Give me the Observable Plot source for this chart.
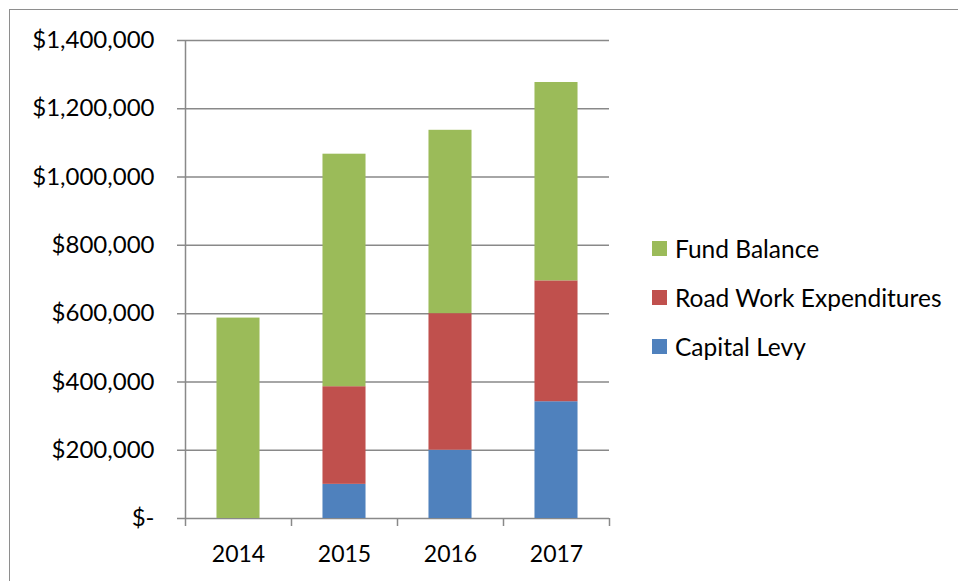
<!DOCTYPE html>
<html><head><meta charset="utf-8">
<script src="https://cdn.jsdelivr.net/npm/d3@7"></script>
<script src="https://cdn.jsdelivr.net/npm/@observablehq/plot@0.6"></script>
<style>
body{margin:0;background:#fff;font-family:Lato,sans-serif}
#wrap{position:relative;width:958px;height:581px;overflow:hidden;background:#fff}
#border{position:absolute;left:9px;top:9px;width:2000px;height:2000px;border:1.5px solid #8e8e8e;box-sizing:border-box}
#chart{position:absolute;left:0;top:0}
#legend{position:absolute;left:652px;top:235px;font-family:Lato,sans-serif;font-size:24.5px;color:#000}
.item{display:flex;align-items:center;height:26px;margin-bottom:23px;white-space:nowrap}
.sw{width:15px;height:15px;margin-right:8px;flex:none}
</style></head>
<body>
<div id="wrap"><div id="border"></div><div id="chart"></div><div id="legend"></div></div>
<script>
const years = ["2014", "2015", "2016", "2017"];
const capitalLevy = [0, 100000, 200000, 342000];
const roadWork = [0, 286000, 400000, 354000];
const fundBalance = [587000, 681000, 537000, 581000];
const seriesNames = ["Capital Levy", "Road Work Expenditures", "Fund Balance"];
const seriesColors = ["#4F81BD", "#C0504D", "#9BBB59"];
const yTicks = [0, 200000, 400000, 600000, 800000, 1000000, 1200000, 1400000];
const legendOrder = ["Fund Balance", "Road Work Expenditures", "Capital Levy"];

const seriesValues = [capitalLevy, roadWork, fundBalance];
const table = years.flatMap((year, i) =>
  seriesNames.map((s, k) => ({year, series: s, value: seriesValues[k][i]})));

const fmt = d => d === 0 ? "$-" : "$" + d3.format(",")(d);
const grey = "#898989";
const band = (958 - 185 - 349) / years.length;

const chart = Plot.plot({
  width: 958, height: 581,
  marginLeft: 185, marginRight: 349, marginTop: 40, marginBottom: 63,
  x: {domain: years, padding: 0, label: null},
  y: {domain: [0, 1400000], label: null},
  color: {domain: seriesNames, range: seriesColors},
  style: {fontFamily: "Lato, sans-serif", fontSize: "24px", color: "#000", background: "transparent", overflow: "visible"},
  marks: [
    Plot.ruleY(yTicks, {stroke: grey, strokeWidth: 1.5, insetLeft: -8}),
    Plot.barY(table, {x: "year", y: "value", fill: "series", insetLeft: band * 0.297, insetRight: band * 0.297}),
    Plot.ruleX(years, {x: d => d, dx: -band / 2, y1: 0, y2: 0, insetBottom: -8, stroke: grey, strokeWidth: 1.5}),
    Plot.ruleX([years[years.length - 1]], {x: d => d, dx: band / 2, y1: 0, y2: 0, insetBottom: -8, stroke: grey, strokeWidth: 1.5}),
    Plot.ruleX([years[0]], {x: d => d, dx: -band / 2, y1: 0, y2: 1400000, stroke: grey, strokeWidth: 1.5}),
    Plot.axisX({tickSize: 0, tickPadding: 27, label: null, fontSize: 23}),
    Plot.axisY({ticks: yTicks, tickFormat: fmt, tickSize: 0, tickPadding: 31, label: null, fontSize: 24})
  ]
});
document.getElementById("chart").appendChild(chart);

const legend = document.getElementById("legend");
legendOrder.forEach(name => {
  const item = document.createElement("div");
  item.className = "item";
  const sw = document.createElement("span");
  sw.className = "sw";
  sw.style.background = seriesColors[seriesNames.indexOf(name)];
  const t = document.createElement("span");
  t.textContent = name;
  item.appendChild(sw); item.appendChild(t);
  legend.appendChild(item);
});
</script>
</body></html>
